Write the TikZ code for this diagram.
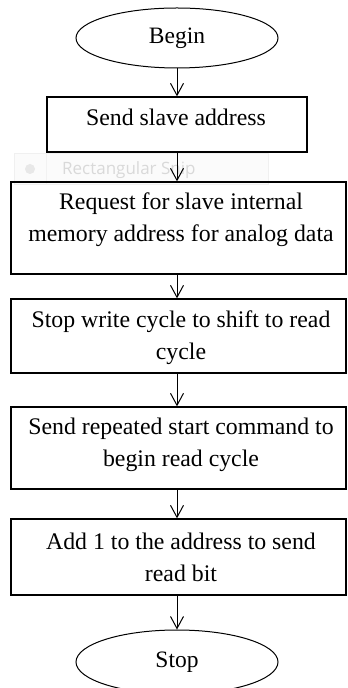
\documentclass[tikz,border=0pt]{standalone}
\usepackage{fontspec}
\setmainfont{Liberation Serif}
\newfontfamily\snipfont{Open Sans}
\usetikzlibrary{shapes.geometric,arrows.meta}

\begin{document}
\begin{tikzpicture}[x=1pt,y=1pt,
  term/.style={draw,ellipse,line width=1pt,minimum width=202pt,minimum height=60pt,inner sep=0pt,
    font=\fontsize{23.5}{32}\selectfont},
  procbox/.style={draw,rectangle,line width=1.3pt,inner sep=0pt},
  boxtext/.style={font=\fontsize{23.8}{31.5}\selectfont,align=center,inner sep=0pt},
  flow/.style={-{Straight Barb[length=12pt,width=13pt]},line width=1pt}]
\useasboundingbox (0,0) rectangle (348,688);

% faint screen-capture tooltip lying behind the chart
\node[draw=gray!12, fill=gray!3, line width=0.8pt, minimum width=254pt, minimum height=31pt,
      inner sep=0pt, anchor=north west] (tip) at (14,535) {};
\draw[gray!10, line width=0.8pt] ([xshift=32pt]tip.north west) coordinate (tipdivtop)
      -- ([xshift=32pt]tip.south west) coordinate (tipdivbot);
\node[circle, fill=gray!18, minimum size=10pt, inner sep=0pt] (tipdot) at (30,519) {};
\node[anchor=west, inner sep=0pt, text=gray!30, font=\snipfont\fontsize{17}{19}\selectfont]
      (tiptext) at (62,518) {Rectangular Snip};

% terminals
\node[term] (begin) at (177,650) {Begin};
\node[term, minimum height=64pt] (stop) at (177,26) {Stop};

% process boxes
\node[procbox, minimum width=260pt, minimum height=55pt] (b1) at (177,563.5) {};
\node[boxtext] (t1) at (176,571) {Send slave address};

\node[procbox, minimum width=335pt, minimum height=92pt] (b2) at (178.5,460) {};
\node[boxtext] (t2) at (181,468.5) {Request for slave internal\\memory address for analog data};

\node[procbox, minimum width=335pt, minimum height=74pt] (b3) at (178.5,352) {};
\node[boxtext] (t3) at (181,350.5) {Stop write cycle to shift to read\\cycle};

\node[procbox, minimum width=335pt, minimum height=82pt] (b4) at (178.5,240) {};
\node[boxtext] (t4) at (181,243) {Send repeated start command to\\begin read cycle};

\node[procbox, minimum width=335pt, minimum height=76pt] (b5) at (178.5,131) {};
\node[boxtext] (t5) at (181,130.5) {Add 1 to the address to send\\read bit};

% connectors
\draw[flow] (begin.south) -- (begin.south |- b1.north);
\draw[flow] (b1.south) -- (b1.south |- b2.north);
\draw[flow] (b1.south |- b2.south) -- (b1.south |- b3.north);
\draw[flow] (b1.south |- b3.south) -- (b1.south |- b4.north);
\draw[flow] (b1.south |- b4.south) -- (b1.south |- b5.north);
\draw[flow] (b1.south |- b5.south) -- (stop.north);
\end{tikzpicture}
\end{document}
